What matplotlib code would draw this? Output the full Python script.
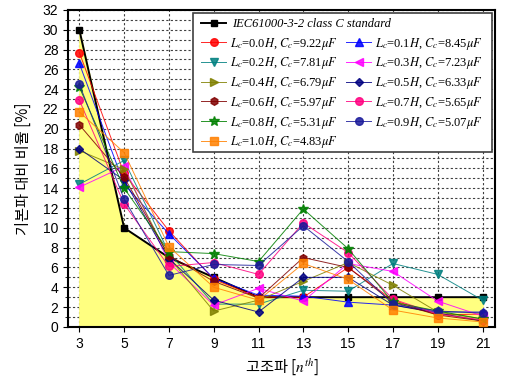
import numpy as np
import matplotlib.pyplot as plt
from matplotlib.patches import Rectangle

plt.rcParams['font.family'] = ['Liberation Sans', 'Noto Sans CJK KR']
plt.rcParams['mathtext.fontset'] = 'stix'

# harmonic orders
harmonics = [3, 5, 7, 9, 11, 13, 15, 17, 19, 21]

# IEC61000-3-2 class C limit [%]
standard = [30, 10, 7, 5, 3, 3, 3, 3, 3, 3]

# measured harmonic ratios for each Lc / Cc pair [%]
lc_values = [0.0, 0.1, 0.2, 0.3, 0.4, 0.5, 0.6, 0.7, 0.8, 0.9, 1.0]
cc_values = [9.22, 8.45, 7.81, 7.23, 6.79, 6.33, 5.97, 5.65, 5.31, 5.07, 4.83]
ratios = [
    [27.7, 15.5, 9.7, 4.8, 3.0, 3.0, 6.0, 2.7, 1.2, 1.3],   # 0.0
    [26.6, 14.4, 9.4, 4.9, 3.2, 3.1, 2.5, 2.2, 1.5, 1.5],   # 0.1
    [14.4, 16.8, 7.5, 2.3, 2.3, 3.7, 3.6, 6.4, 5.3, 2.7],   # 0.2
    [14.1, 16.2, 6.5, 2.2, 3.9, 2.6, 6.4, 5.6, 2.6, 1.1],   # 0.3
    [17.8, 15.9, 7.0, 1.6, 2.7, 4.6, 6.5, 4.2, 1.5, 0.8],   # 0.4
    [18.0, 14.8, 6.9, 2.7, 1.5, 5.0, 5.0, 2.2, 1.4, 0.6],   # 0.5
    [20.4, 15.1, 7.2, 4.6, 2.9, 7.0, 6.0, 2.5, 1.2, 0.6],   # 0.6
    [22.9, 12.4, 6.1, 6.5, 5.3, 10.5, 7.5, 2.8, 1.3, 0.7],  # 0.7
    [24.2, 14.0, 7.6, 7.4, 6.6, 11.9, 7.9, 2.5, 1.6, 0.8],  # 0.8
    [24.5, 12.9, 5.2, 6.3, 6.2, 10.2, 6.6, 2.3, 1.6, 1.4],  # 0.9
    [21.7, 17.6, 8.1, 4.0, 2.7, 6.4, 4.8, 1.7, 0.9, 0.5],   # 1.0
]

colors = ['#FF0000', '#0000FF', '#008080', '#FF00FF', '#808000', '#000080',
          '#800000', '#FF0080', '#008000', '#1A1A9A', '#FF8000']
markers = ['o', '^', 'v', '<', '>', 'D', 'h', 'o', '*', 'o', 's']
sizes = [5.5, 5.5, 5.5, 5.5, 5.5, 4.5, 5.5, 5.5, 7.5, 5.5, 5.5]

fig = plt.figure(figsize=(5.16, 3.81), dpi=100)
ax = fig.add_axes([0.132, 0.142, 0.827, 0.832])

ax.fill_between(harmonics, 0, standard, color='#FFFF80', zorder=1)
std_line, = ax.plot(harmonics, standard, color='black', lw=1.4, marker='s',
                    ms=4.5, zorder=2.5,
                    label='IEC61000-3-2 class C standard')

handles = []
for i in range(len(lc_values)):
    label = (r'$L_c$=%.1f$H$, $C_c$=%.2f$\mu F$' % (lc_values[i], cc_values[i]))
    h, = ax.plot(harmonics, ratios[i], color=colors[i], lw=0.7, alpha=0.85,
                 marker=markers[i], ms=sizes[i], mec=colors[i], zorder=3,
                 label=label)
    handles.append(h)

ax.set_xlim(2.5, 21.55)
ax.set_ylim(0, 32)
ax.set_xticks(harmonics)
ax.set_yticks(np.arange(0, 33, 2))
ax.set_yticks(np.arange(0, 33, 1), minor=True)
ax.grid(True, which='both', color='#404040', ls=(0, (2, 2)), lw=0.8)
ax.grid(False, which='minor', axis='x')
ax.set_axisbelow(True)
ax.tick_params(labelsize=10)
for s in ax.spines.values():
    s.set_linewidth(1.5)

ax.set_xlabel(r'고조파 [$n^{th}$]', fontsize=11, family=['Noto Sans CJK KR'])
ax.set_ylabel('기본파 대비 비율 [%]', fontsize=11, family=['Noto Sans CJK KR'],
              labelpad=8)

# legend frame and entries
ax.add_patch(Rectangle((0.293, 0.553), 0.70, 0.437, transform=ax.transAxes,
                       facecolor='white', edgecolor='#404040', lw=1.2,
                       zorder=6))
leg1 = ax.legend(handles=[std_line], loc='upper left',
                 bbox_to_anchor=(0.30, 0.99), frameon=False,
                 prop={'family': 'Liberation Serif', 'style': 'italic',
                       'size': 9}, handlelength=2.0, handletextpad=0.5,
                 borderaxespad=0)
leg1.set_zorder(7)
ax.add_artist(leg1)
order = [0, 2, 4, 6, 8, 10, 1, 3, 5, 7, 9]
leg2 = ax.legend(handles=[handles[k] for k in order], ncol=2, loc='upper left',
                 bbox_to_anchor=(0.30, 0.935), frameon=False,
                 prop={'family': 'Liberation Serif', 'size': 9},
                 handlelength=2.0, handletextpad=0.3, columnspacing=0.7,
                 labelspacing=0.3, borderaxespad=0)
leg2.set_zorder(7)

fig.savefig('out.png', dpi=100)
